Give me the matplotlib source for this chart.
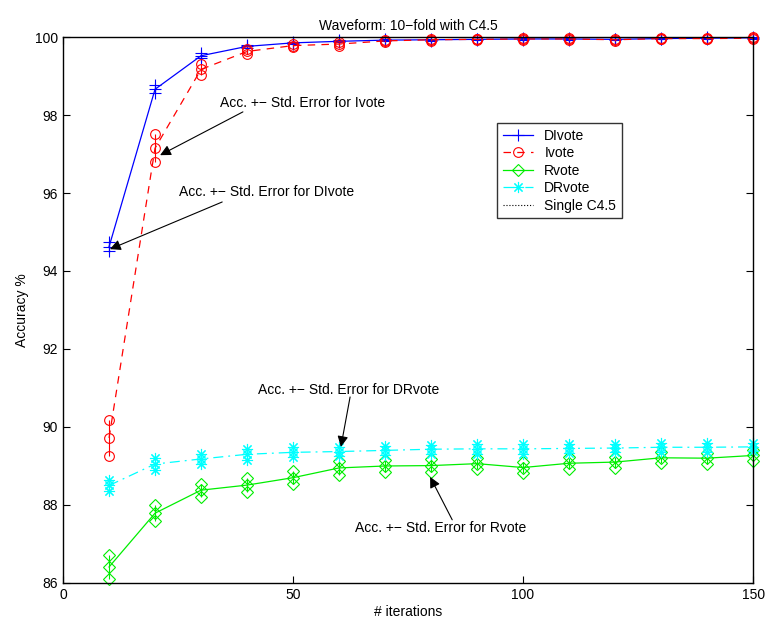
import numpy as np
import matplotlib
matplotlib.use("Agg")
import matplotlib.pyplot as plt

plt.rcParams['font.family'] = ['Liberation Sans', 'DejaVu Sans']

# iterations
iters = [10, 20, 30, 40, 50, 60, 70, 80, 90, 100, 110, 120, 130, 140, 150]

# mean accuracy and std. error per method
divote = [94.62, 98.66, 99.52, 99.76, 99.85, 99.89, 99.92, 99.93, 99.94, 99.95, 99.95, 99.94, 99.96, 99.97, 99.98]
divote_se = [0.12, 0.10, 0.06, 0.04, 0.03, 0.03, 0.02, 0.02, 0.02, 0.02, 0.02, 0.02, 0.02, 0.02, 0.02]

ivote = [89.72, 97.15, 99.17, 99.63, 99.78, 99.82, 99.90, 99.93, 99.94, 99.95, 99.95, 99.93, 99.96, 99.96, 99.97]
ivote_se = [0.47, 0.36, 0.15, 0.06, 0.04, 0.04, 0.03, 0.02, 0.02, 0.02, 0.02, 0.02, 0.02, 0.02, 0.02]

rvote = [86.41, 87.79, 88.38, 88.51, 88.70, 88.95, 89.00, 89.01, 89.06, 88.96, 89.07, 89.10, 89.21, 89.20, 89.27]
rvote_se = [0.30, 0.21, 0.17, 0.17, 0.17, 0.18, 0.15, 0.16, 0.15, 0.15, 0.15, 0.14, 0.14, 0.14, 0.14]

drvote = [88.50, 89.05, 89.18, 89.30, 89.35, 89.37, 89.40, 89.43, 89.44, 89.44, 89.45, 89.46, 89.48, 89.48, 89.49]
drvote_se = [0.13, 0.15, 0.13, 0.14, 0.13, 0.12, 0.12, 0.12, 0.12, 0.12, 0.11, 0.11, 0.11, 0.11, 0.11]

single_c45 = [76.1, 76.1, 76.1, 76.1, 76.1, 76.1, 76.1, 76.1, 76.1, 76.1, 76.1, 76.1, 76.1, 76.1, 76.1]

fig = plt.figure(figsize=(7.65, 6.19), dpi=100)
ax = fig.add_axes([0.0824, 0.0582, 0.902, 0.882])

x = np.array(iters)
star = (8, 2, 0)

series = [
    ("DIvote", divote, divote_se, "#0000ff", "-", "+", 9),
    ("Ivote", ivote, ivote_se, "#ff0000", (0, (6, 5)), "o", 7),
    ("Rvote", rvote, rvote_se, "#00ee00", "-", "D", 6),
    ("DRvote", drvote, drvote_se, "#00ffff", (0, (8, 4, 1.5, 4)), star, 8),
]

handles = []
for name, m, se, c, ls, mk, ms in series:
    m = np.array(m)
    se = np.array(se)
    ax.vlines(x, m - se, m + se, color=c, lw=0.8)
    ax.plot(x, m - se, ls="none", marker=mk, ms=ms, mfc="none", mec=c, mew=0.8, clip_on=False)
    ax.plot(x, m + se, ls="none", marker=mk, ms=ms, mfc="none", mec=c, mew=0.8, clip_on=False)
    h, = ax.plot(x, m, color=c, ls=ls, lw=0.9, marker=mk, ms=ms, mfc="none", mec=c, mew=0.8,
                 label=name, clip_on=False)
    handles.append(h)

h, = ax.plot(x, single_c45, color="k", ls=":", lw=0.8, label="Single C4.5")
handles.append(h)

ax.set_xlim(0, 150)
ax.set_ylim(86, 100)
ax.set_xticks([0, 50, 100, 150])
ax.set_yticks([86, 88, 90, 92, 94, 96, 98, 100])
ax.tick_params(direction="in", top=True, right=True, labelsize=10, length=5)
for s in ax.spines.values():
    s.set_linewidth(1.0)

ax.set_title("Waveform: 10\u2212fold with C4.5", fontsize=10, pad=5)
ax.set_xlabel("# iterations", fontsize=10, labelpad=2)
ax.set_ylabel("Accuracy %", fontsize=10, labelpad=4)

leg = ax.legend(handles=handles, loc="upper left", bbox_to_anchor=(0.629, 0.842),
                fontsize=10, frameon=True, fancybox=False, borderaxespad=0,
                handlelength=2.2, labelspacing=0.25, borderpad=0.4)
leg.get_frame().set_edgecolor("k")
leg.get_frame().set_linewidth(1.0)

arrow = dict(arrowstyle="-|>", color="k", lw=0.8, mutation_scale=16, shrinkA=0, shrinkB=0)
ax.annotate("", xy=(21.1, 96.97), xytext=(39.1, 98.08), arrowprops=arrow)
ax.text(34.1, 98.31, "Acc. +\u2212 Std. Error for Ivote", fontsize=10, va="center")
ax.annotate("", xy=(10.2, 94.56), xytext=(34.6, 95.77), arrowprops=arrow)
ax.text(25.2, 96.03, "Acc. +\u2212 Std. Error for DIvote", fontsize=10, va="center")
ax.annotate("", xy=(60.4, 89.49), xytext=(62.4, 90.77), arrowprops=arrow)
ax.text(42.4, 90.95, "Acc. +\u2212 Std. Error for DRvote", fontsize=10, va="center")
ax.annotate("", xy=(79.8, 88.72), xytext=(84.6, 87.62), arrowprops=arrow)
ax.text(63.5, 87.41, "Acc. +\u2212 Std. Error for Rvote", fontsize=10, va="center")

fig.savefig("out.png", dpi=100)
